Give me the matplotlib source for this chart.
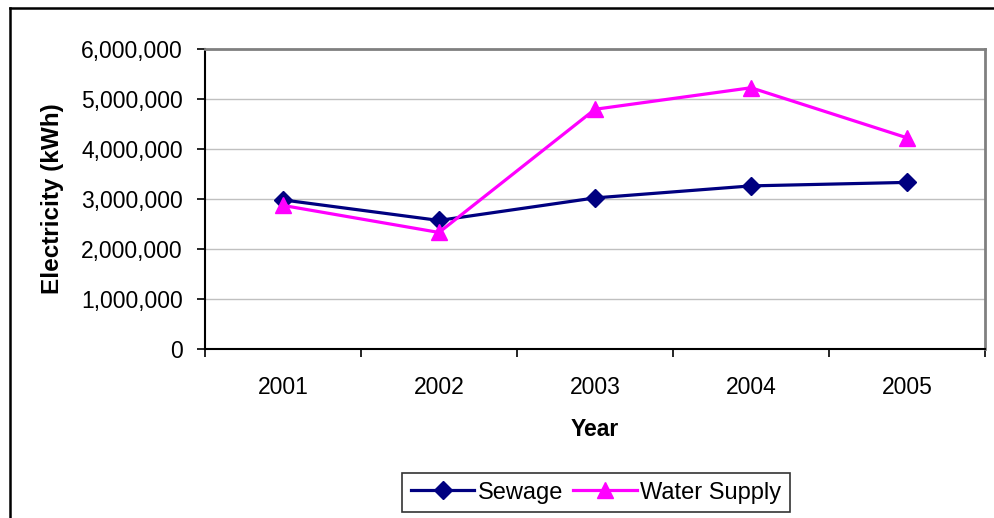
import numpy as np
import matplotlib.pyplot as plt
from matplotlib.lines import Line2D
from matplotlib.ticker import FuncFormatter, MultipleLocator

plt.rcParams['font.family'] = ['Liberation Sans', 'DejaVu Sans']

# Data
years = ['2001', '2002', '2003', '2004', '2005']
sewage = [2980000, 2570000, 3020000, 3260000, 3330000]
water_supply = [2870000, 2330000, 4790000, 5220000, 4220000]

fig = plt.figure(figsize=(9.95, 5.18), dpi=100)
ax = fig.add_axes([0.206, 0.326, 0.784, 0.580])

x = np.arange(len(years))
ax.plot(x, sewage, color='#000080', lw=2.3, marker='D', ms=9,
        label='Sewage', zorder=3)
ax.plot(x, water_supply, color='#FF00FF', lw=2.3, marker='^', ms=12,
        label='Water Supply', zorder=3)

ax.set_xlim(-0.5, len(years) - 0.5)
ax.set_ylim(0, 6000000)

# Category labels in the middle, tick marks on the boundaries
ax.set_xticks(x)
ax.set_xticklabels(years, fontsize=16.5)
ax.set_xticks(np.arange(-0.5, len(years)), minor=True)
ax.tick_params(axis='x', which='major', length=0, pad=19)
ax.tick_params(axis='x', which='minor', length=6, width=1.2, direction='out')

ax.yaxis.set_major_locator(MultipleLocator(1000000))
ax.yaxis.set_major_formatter(FuncFormatter(lambda v, p: f'{v:,.0f}'))
ax.tick_params(axis='y', length=6, width=1.2, pad=10, labelsize=16.5)

ax.grid(axis='y', color='#C0C0C0', lw=1)
ax.set_axisbelow(True)

for s in ['left', 'bottom']:
    ax.spines[s].set_color('black')
    ax.spines[s].set_linewidth(1.5)
for s in ['top', 'right']:
    ax.spines[s].set_color('#808080')
    ax.spines[s].set_linewidth(2)

ax.set_xlabel('Year', fontsize=16.5, fontweight='bold', labelpad=14)
ax.set_ylabel('Electricity (kWh)', fontsize=17.5, fontweight='bold', labelpad=12)

leg = fig.legend(loc='center', bbox_to_anchor=(0.599, 0.049), ncol=2,
                 fontsize=17, frameon=True, fancybox=False, handlelength=2.7,
                 columnspacing=0.4, handletextpad=0.15, borderpad=0.35,
                 borderaxespad=0)
leg.get_frame().set_edgecolor('black')
leg.get_frame().set_linewidth(1.2)

# Outer chart border (top and left visible)
fig.add_artist(Line2D([0.0101, 1.0], [0.9846, 0.9846], color='black', lw=1.8,
                      transform=fig.transFigure))
fig.add_artist(Line2D([0.0101, 0.0101], [0.0, 0.9846], color='black', lw=1.8,
                      transform=fig.transFigure))

fig.savefig('out.png', dpi=100)
